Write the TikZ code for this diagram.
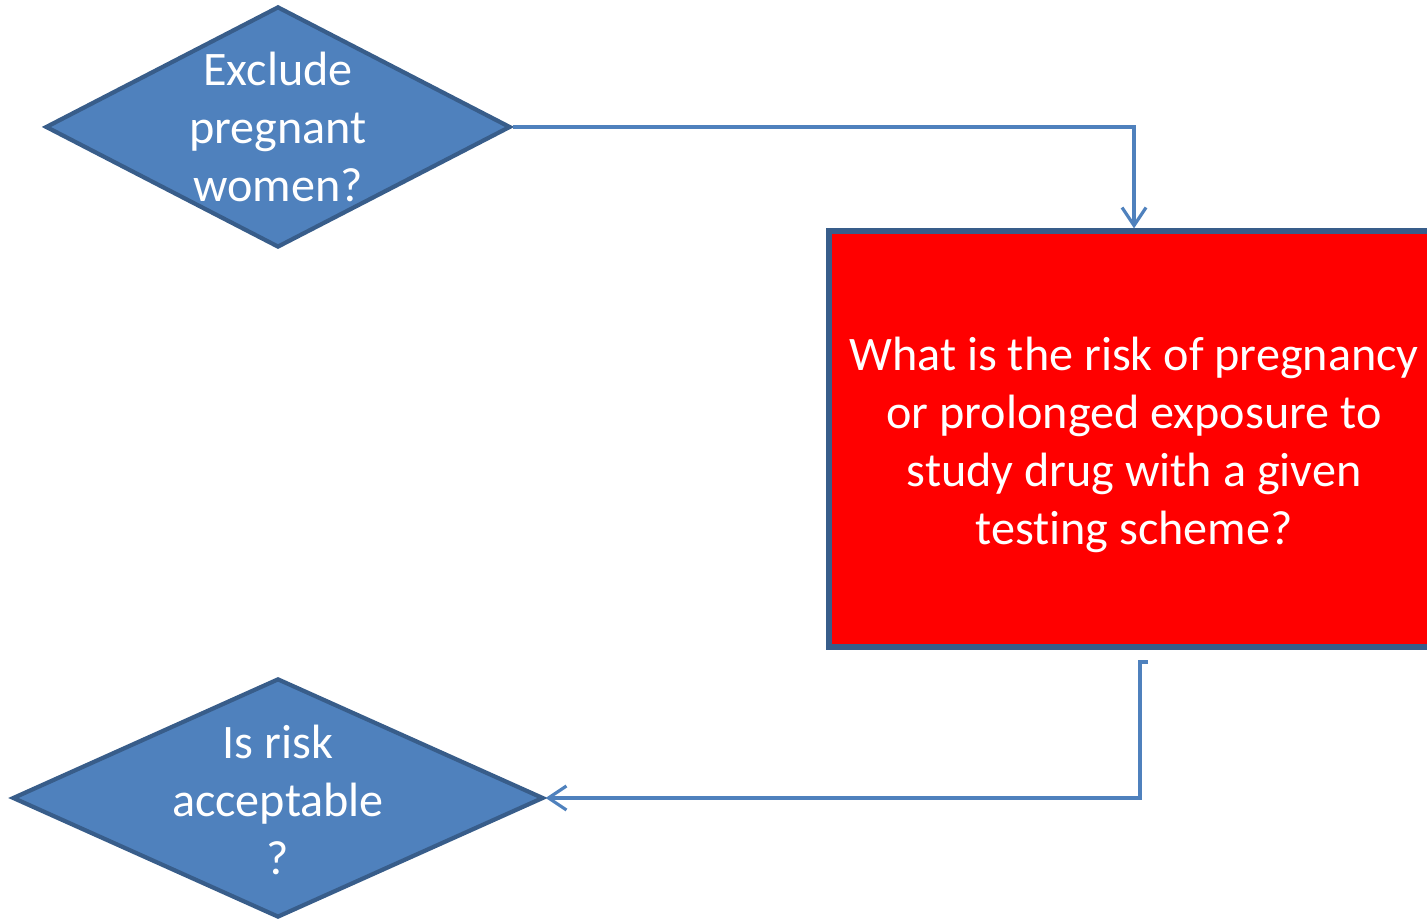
\documentclass[tikz,border=0pt]{standalone}
\usepackage{xcolor}
\usepackage{fontspec}
\setmainfont{Carlito}[Ligatures=NoCommon]
\usepackage{tikz}
\usetikzlibrary{shapes.geometric,arrows.meta}
\definecolor{boxblue}{HTML}{4F81BD}
\definecolor{edgeblue}{HTML}{385D8A}

\begin{document}
\begin{tikzpicture}[
        decision/.style={diamond, draw=edgeblue, fill=boxblue, line width=1.2pt, inner sep=0pt},
        qtext/.style={align=center, text=white, font=\fontsize{13.7}{16.5}\selectfont},
        riskbox/.style={rectangle, draw=edgeblue, fill=red, line width=1.5pt, minimum width=6.10cm, minimum height=4.16cm},
        link/.style={draw=boxblue, line width=0.9pt, -{Straight Barb[length=0.18cm, width=0.24cm]}}
    ]
        \useasboundingbox (0,0) rectangle (14.27,9.19);
        % Questions
        \node[decision, minimum width=4.65cm, minimum height=2.41cm] (q1) at (2.78,7.92) {};
        \node[qtext] at (q1) {Exclude\\pregnant\\women?};
        \node[riskbox] (risk) at (11.34,4.80) {};
        \node[qtext] at ([yshift=-0.06cm]risk.center) {What is the risk of pregnancy\\or prolonged exposure to\\study drug with a given\\testing scheme?};
        \node[decision, minimum width=5.31cm, minimum height=2.39cm] (q2) at (2.78,1.21) {};
        \node[qtext] at ([yshift=-0.02cm]q2.center) {Is risk\\acceptable\\?};
        % Connectors
        \coordinate (tick) at (11.48,2.57);
        \draw[link] (q1.east) -| (risk.north);
        \draw[link] (tick) -- ++(-0.08,0) |- (q2.east);
    \end{tikzpicture}
\end{document}
